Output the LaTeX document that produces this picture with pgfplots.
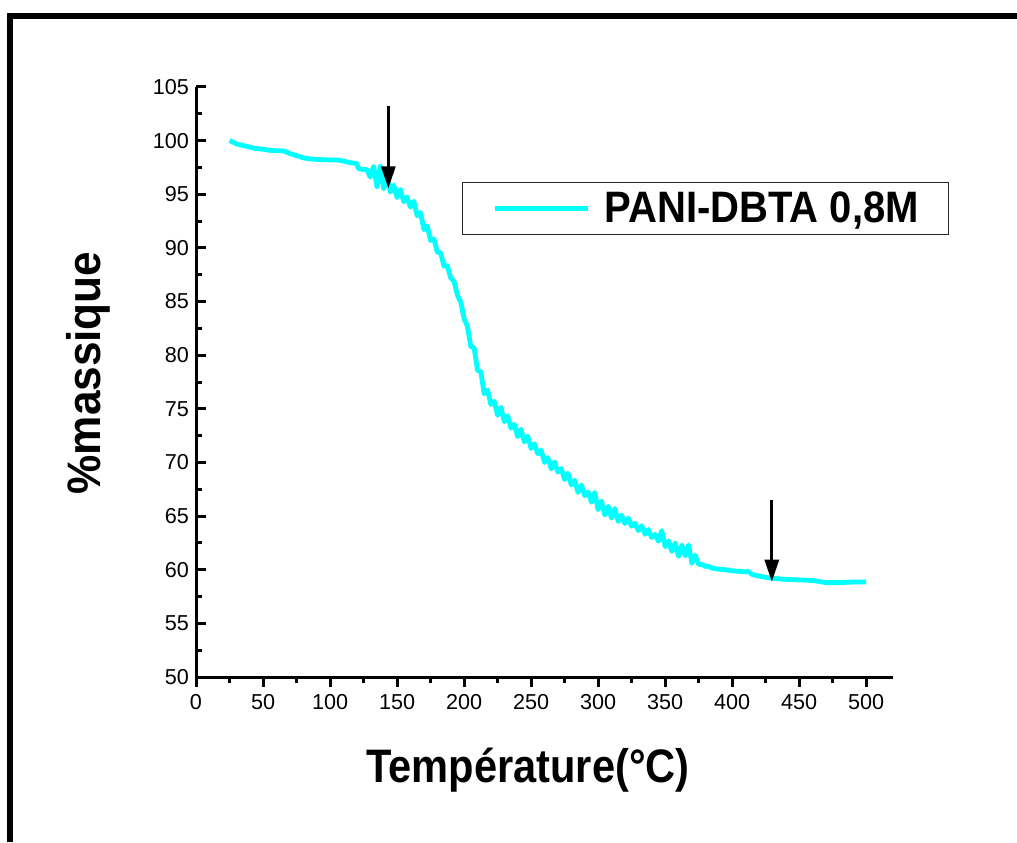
\documentclass[border=0pt]{standalone}
\usepackage{fontspec}
\setmainfont{Liberation Sans}
\usepackage{graphicx}
\usepackage{pgfplots}
\pgfplotsset{compat=1.18}
\usetikzlibrary{arrows.meta}
\definecolor{aqua}{RGB}{0,255,255}
\begin{document}
\begin{tikzpicture}[x=0.5pt,y=0.5pt]
\path[use as bounding box] (0,0) rectangle (1017,842);
% cadre
\draw[line width=3pt, line join=miter] (10,0) -- (10,826) -- (1017,826);
\begin{axis}[
  at={(98pt,82.5pt)}, anchor=south west,
  scale only axis, width=348.5pt, height=295pt,
  xmin=0, xmax=520, ymin=50, ymax=105,
  axis x line=bottom, axis y line=left,
  axis line style={-, line width=1.5pt},
  xtick={0,50,...,500}, ytick={50,55,...,105},
  minor x tick num=1, minor y tick num=1,
  xtick align=outside, ytick align=inside,
  major tick length=5pt, minor tick length=3pt,
  tick style={black, line width=1.5pt},
  tick label style={font=\fontsize{10.8}{12}\selectfont},
  /pgf/number format/assume math mode=true,
  legend style={at={(axis cs:198.5,96.15)}, anchor=north west,
    draw=black!85, line width=0.6pt, inner xsep=15pt, inner ysep=4.5pt,
    font=\fontsize{22}{24}\selectfont\bfseries, nodes={inner sep=0pt},
    /tikz/every odd column/.append style={column sep=7pt}},
  legend image code/.code={\draw[#1] (0pt,0pt) -- (46.5pt,0pt);},
]
\addplot[color=aqua, line width=2.4pt, line join=round] coordinates {
(25,100.0)(27,99.9)(30,99.7)(35,99.55)(40,99.4)(45,99.25)(50,99.2)(55,99.1)
(60,99.05)(65,99.05)(70,98.8)(75,98.6)(80,98.4)(85,98.3)(90,98.25)(100,98.2)
(105,98.2)(110,98.1)(115,97.95)(118,97.9)(120,97.85)(121,97.4)
(125.0,97.3)(127.5,97.3)(130.0,96.6)(132.5,97.6)(135.0,95.7)(137.5,97.6)
(140.0,95.5)(142.5,96.6)(145.0,95.2)(147.5,95.85)(150.0,94.7)(152.5,95.45)
(155.0,94.3)(157.5,94.75)(160.0,93.8)(162.5,94.35)(165.0,93.0)(167.5,93.3)
(170.0,91.7)(172.5,92.05)(175.0,90.7)(177.5,90.85)(180.0,89.6)(182.5,89.55)
(185.0,88.3)(187.5,88.35)(190.0,87.2)(192.5,86.9)(195.0,85.6)(197.5,84.95)
(200.0,83.4)(202.5,82.7)(205.0,80.8)(207.5,80.7)(210.0,78.6)(212.5,78.45)
(215.0,76.4)(217.5,76.75)(220.0,75.4)(222.5,75.7)(225.0,74.4)(227.5,75.15)
(230.0,73.8)(232.5,74.35)(235.0,73.2)(237.5,73.55)(240.0,72.4)(242.5,73.1)
(245.0,71.9)(247.5,72.45)(250.0,71.3)(252.5,71.75)(255.0,70.8)(257.5,71.15)
(260.0,70.0)(262.5,70.45)(265.0,69.4)(267.5,70.05)(270.0,69.1)(272.5,69.45)
(275.0,68.4)(277.5,69.0)(280.0,67.9)(282.5,68.35)(285.0,67.2)(287.5,67.9)
(290.0,66.9)(292.5,67.25)(295.0,66.3)(297.5,67.2)(300.0,65.6)(302.5,66.4)
(305.0,65.1)(307.5,65.9)(310.0,64.8)(312.5,65.7)(315.0,64.5)(317.5,65.1)
(320.0,64.3)(322.5,64.8)(325.0,64.05)(327.5,64.35)(330.0,63.65)(332.5,64.1)
(335.0,63.3)(337.5,63.75)(340.0,63.0)(342.5,63.3)(345.0,62.65)(347.5,63.65)
(350.0,62.15)(352.5,62.7)(355.0,61.7)(357.5,62.5)(360.0,61.25)(362.5,62.3)
(365.0,61.3)(367.5,62.3)(370.0,60.6)(372.5,61.35)(375.0,60.5)
(377.5,60.5)(380,60.3)(382,60.35)(385,60.15)(390,60.05)(395,60.0)(400,59.9)
(405,59.85)(410,59.8)(412,59.85)(415,59.55)(420,59.4)(425,59.3)(430,59.2)
(440,59.1)(450,59.05)(460,59.0)(465,58.9)(470,58.8)(480,58.8)(490,58.85)(500,58.85)
};
\addlegendentry{\scalebox{0.91}[1]{PANI-DBTA 0,8M}\hspace{7.5pt}}
% fleches
\draw[line width=1.5pt, -{Triangle[width=7pt,length=11pt]}]
  (axis cs:143.5,103.2) -- (axis cs:143.5,95.55);
\draw[line width=1.5pt, -{Triangle[width=7pt,length=11pt]}]
  (axis cs:429.6,66.5) -- (axis cs:429.6,58.88);
\end{axis}
\node[anchor=base, font=\fontsize{23.5}{26}\selectfont\bfseries]
  at (528,60) {\scalebox{0.885}[1]{Température(°C)}};
\node[anchor=base, rotate=90, font=\fontsize{23.5}{26}\selectfont\bfseries]
  at (100,469) {\scalebox{0.94}[1]{\%massique}};
\end{tikzpicture}
\end{document}
